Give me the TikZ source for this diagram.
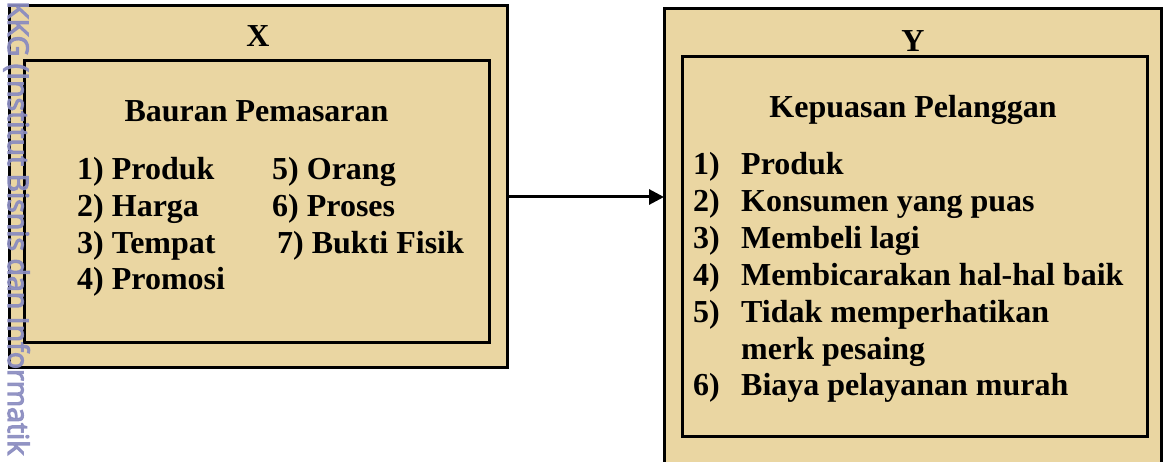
\documentclass[tikz,border=0pt]{standalone}
\usepackage{fontspec}
\setmainfont{Liberation Serif}
\newfontfamily\wmfont[FakeBold=4]{Open Sans}
\usetikzlibrary{arrows.meta}
\definecolor{parch}{RGB}{234,214,162}
\definecolor{wmcol}{RGB}{138,140,192}
\begin{document}
\begin{tikzpicture}[x=1pt,y=-1pt,
  outerbox/.style={draw=black, line width=3pt, fill=parch, inner sep=0pt, outer sep=0pt, anchor=north west},
  innerbox/.style={draw=black, line width=3pt, inner sep=0pt, outer sep=0pt, anchor=north west},
  txt/.style={font=\fontsize{32}{38}\selectfont\bfseries, inner sep=0pt, anchor=base west},
  ctxt/.style={font=\fontsize{32}{38}\selectfont\bfseries, inner sep=0pt, anchor=base},
  link/.style={line width=3pt, -{Triangle[length=15pt,width=15pt]}},
  wmark/.style={font=\wmfont\fontsize{28.5}{28.5}\selectfont, text=wmcol, text opacity=0.9, rotate=-90, anchor=base west, inner sep=0pt}
]
\useasboundingbox (0,0) rectangle (1163,462);
\clip (0,0) rectangle (1163,462);

% left block
\node[outerbox, minimum width=498pt, minimum height=362pt] (X) at (9,6) {};
\node[innerbox, minimum width=465pt, minimum height=282pt] (Xin) at (24,61) {};
\node[ctxt] (xlab) at (258,47) {X};
\node[ctxt] (xtitle) at (256.5,122) {Bauran Pemasaran};
\node[txt] (x1) at (77,180) {1) Produk};
\node[txt] (x2) at (77,217) {2) Harga};
\node[txt] (x3) at (77,253.5) {3) Tempat};
\node[txt] (x4) at (77,290) {4) Promosi};
\node[txt] (x5) at (272,180) {5) Orang};
\node[txt] (x6) at (272,217) {6) Proses};
\node[txt] (x7) at (277,253.5) {7) Bukti Fisik};

% right block
\node[outerbox, minimum width=497pt, minimum height=470pt] (Y) at (664,9) {};
\node[innerbox, minimum width=465pt, minimum height=380pt] (Yin) at (682,57) {};
\node[ctxt] (ylab) at (913,52) {Y};
\node[ctxt] (ytitle) at (913,118) {Kepuasan Pelanggan};
\node[txt] (n1) at (693,175) {1)};
\node[txt] (y1) at (741,175) {Produk};
\node[txt] (n2) at (693,212) {2)};
\node[txt] (y2) at (741,212) {Konsumen yang puas};
\node[txt] (n3) at (693,249) {3)};
\node[txt] (y3) at (741,249) {Membeli lagi};
\node[txt] (n4) at (693,286) {4)};
\node[txt] (y4) at (741,286) {Membicarakan hal-hal baik};
\node[txt] (n5) at (693,323) {5)};
\node[txt] (y5) at (741,323) {Tidak memperhatikan};
\node[txt] (y5b) at (741,359.5) {merk pesaing};
\node[txt] (n6) at (693,396) {6)};
\node[txt] (y6) at (741,396) {Biaya pelayanan murah};

% connector
\path (X.east) ++(0,10) coordinate (as);
\draw[link] (as) -- (as -| Y.west);

% watermark
\node[wmark] (wm) at (8,1) {KKG (Institut Bisnis dan Informatik};
\end{tikzpicture}
\end{document}
